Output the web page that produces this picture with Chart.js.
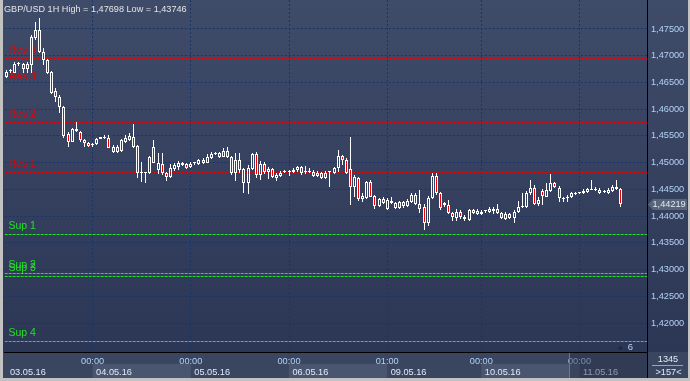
<!DOCTYPE html>
<html><head><meta charset="utf-8">
<script src="https://cdn.jsdelivr.net/npm/chart.js@4.4.1/dist/chart.umd.min.js"></script>
<style>html,body{margin:0;padding:0;background:#c4c4c4;overflow:hidden}#wrap{width:690px;height:381px;position:relative}canvas{display:block}</style>
</head><body><div id="wrap"><canvas id="c" width="690" height="381"></canvas></div>
<script>
// ---------- data ----------
const chartTitle = 'GBP/USD 1H High = 1,47698 Low = 1,43746';
const openP = [1.46602,1.46705,1.46683,1.46836,1.46752,1.46757,1.46827,1.47326,1.47481,1.47075,
1.46920,1.46690,1.46340,1.46222,1.46035,1.45536,1.45392,1.45629,1.45579,1.45362,
1.45362,1.45330,1.45343,1.45437,1.45455,1.45467,1.45298,1.45205,1.45218,1.45392,
1.45424,1.45485,1.45311,1.44801,1.44812,1.44801,1.45287,1.44862,1.44975,1.44801,
1.44726,1.44875,1.44924,1.44988,1.44969,1.44913,1.44984,1.44975,1.45049,1.44999,
1.45092,1.45167,1.45186,1.45111,1.45223,1.45100,1.44801,1.45049,1.44875,1.44614,
1.44881,1.45162,1.44769,1.44969,1.44819,1.44875,1.44707,1.44756,1.44825,1.44819,
1.44819,1.44862,1.44913,1.44838,1.44825,1.44831,1.44812,1.44812,1.44707,1.44825,
1.44801,1.44894,1.45124,1.45049,1.44875,1.44539,1.44707,1.44314,1.44333,1.44643,
1.44376,1.44189,1.44314,1.44127,1.44282,1.44239,1.44146,1.44258,1.44189,1.44269,
1.44395,1.44226,1.44165,1.43865,1.44333,1.44750,1.44426,1.44239,1.44208,1.44052,
1.43959,1.44071,1.43989,1.43927,1.44114,1.44039,1.44039,1.44090,1.44082,1.44095,
1.44127,1.44052,1.43946,1.44034,1.43959,1.44071,1.44170,1.44165,1.44426,1.44531,
1.44221,1.44470,1.44363,1.44475,1.44614,1.44531,1.44325,1.44339,1.44352,1.44413,
1.44426,1.44426,1.44456,1.44494,1.44483,1.44488,1.44456,1.44438,1.44475,1.44539,
1.44501];
const highP = [1.46724,1.46752,1.46877,1.46883,1.46870,1.46883,1.47388,1.47637,1.47698,1.47145,
1.46939,1.46714,1.46396,1.46265,1.46060,1.45579,1.45648,1.45755,1.45601,1.45442,
1.45392,1.45367,1.45452,1.45480,1.45508,1.45517,1.45330,1.45330,1.45442,1.45517,
1.45560,1.45717,1.45330,1.45018,1.44834,1.45130,1.45424,1.45180,1.45175,1.44825,
1.44975,1.44993,1.45031,1.45012,1.44993,1.45003,1.45012,1.45077,1.45087,1.45162,
1.45199,1.45205,1.45205,1.45280,1.45298,1.45124,1.45175,1.45186,1.44900,1.44956,
1.45180,1.45193,1.45031,1.45018,1.44913,1.44894,1.44801,1.44844,1.44862,1.44862,
1.44894,1.44943,1.44928,1.44937,1.44894,1.44862,1.44844,1.44831,1.44849,1.44849,
1.44924,1.45236,1.45143,1.45087,1.45485,1.44769,1.44737,1.44426,1.44662,1.44675,
1.44395,1.44339,1.44352,1.44333,1.44352,1.44269,1.44282,1.44288,1.44320,1.44426,
1.44432,1.44488,1.44226,1.44376,1.44812,1.44801,1.44451,1.44269,1.44301,1.44082,
1.44127,1.44114,1.44021,1.44133,1.44133,1.44127,1.44114,1.44120,1.44165,1.44165,
1.44226,1.44077,1.44071,1.44052,1.44114,1.44282,1.44438,1.44470,1.44675,1.44582,
1.44363,1.44501,1.44625,1.44788,1.44632,1.44563,1.44363,1.44395,1.44456,1.44451,
1.44456,1.44501,1.44520,1.44675,1.44550,1.44520,1.44488,1.44520,1.44582,1.44675,
1.44520];
const lowP = [1.46583,1.46677,1.46671,1.46808,1.46671,1.46671,1.46671,1.47294,1.47051,1.46827,
1.46658,1.46284,1.46140,1.45923,1.45455,1.45298,1.45377,1.45579,1.45392,1.45298,
1.45298,1.45293,1.45330,1.45433,1.45442,1.45265,1.45186,1.45186,1.45199,1.45367,
1.45405,1.45280,1.44707,1.44643,1.44614,1.44788,1.44993,1.44788,1.44769,1.44662,
1.44713,1.44844,1.44862,1.44937,1.44890,1.44900,1.44956,1.44956,1.44975,1.44984,
1.45068,1.45143,1.45096,1.45100,1.45087,1.44769,1.44662,1.44801,1.44438,1.44413,
1.44862,1.44707,1.44675,1.44782,1.44694,1.44707,1.44657,1.44737,1.44797,1.44756,
1.44806,1.44834,1.44769,1.44788,1.44801,1.44737,1.44737,1.44694,1.44694,1.44550,
1.44788,1.44831,1.44956,1.44788,1.44208,1.44352,1.44288,1.44269,1.44320,1.44352,
1.44133,1.44170,1.44221,1.44120,1.44226,1.44133,1.44133,1.44146,1.44170,1.44245,
1.44208,1.44052,1.43746,1.43815,1.44320,1.44395,1.44114,1.44170,1.44034,1.43914,
1.43914,1.43946,1.43914,1.43908,1.44039,1.44026,1.44021,1.44058,1.44064,1.44039,
1.44034,1.43940,1.43927,1.43946,1.43877,1.44058,1.44146,1.44151,1.44395,1.44208,
1.44195,1.44208,1.44352,1.44451,1.44526,1.44269,1.44258,1.44269,1.44333,1.44395,
1.44413,1.44413,1.44438,1.44483,1.44470,1.44413,1.44432,1.44413,1.44456,1.44488,
1.44176];
const closeP = [1.46696,1.46714,1.46840,1.46845,1.46840,1.46851,1.47356,1.47481,1.47075,1.46920,
1.46671,1.46297,1.46222,1.46035,1.45498,1.45392,1.45629,1.45592,1.45424,1.45424,
1.45311,1.45336,1.45437,1.45474,1.45474,1.45280,1.45205,1.45287,1.45424,1.45467,
1.45498,1.45298,1.44812,1.44812,1.44816,1.45111,1.44999,1.44993,1.44801,1.44726,
1.44894,1.44956,1.44999,1.44950,1.44905,1.44975,1.44993,1.45049,1.44988,1.45111,
1.45162,1.45186,1.45111,1.45223,1.45100,1.44801,1.45049,1.44862,1.44614,1.44894,
1.45162,1.44769,1.44969,1.44831,1.44875,1.44737,1.44769,1.44812,1.44838,1.44844,
1.44862,1.44924,1.44801,1.44831,1.44831,1.44756,1.44756,1.44707,1.44812,1.44831,
1.44894,1.45124,1.45049,1.44801,1.44539,1.44737,1.44314,1.44376,1.44643,1.44363,
1.44189,1.44314,1.44239,1.44301,1.44239,1.44157,1.44258,1.44189,1.44282,1.44395,
1.44226,1.44138,1.43865,1.44333,1.44750,1.44426,1.44146,1.44202,1.44052,1.43978,
1.44071,1.43978,1.43940,1.44114,1.44052,1.44101,1.44082,1.44101,1.44127,1.44127,
1.44052,1.43959,1.44039,1.43959,1.44071,1.44176,1.44189,1.44438,1.44531,1.44221,
1.44301,1.44376,1.44488,1.44614,1.44550,1.44333,1.44339,1.44352,1.44426,1.44426,
1.44438,1.44475,1.44501,1.44501,1.44488,1.44426,1.44464,1.44488,1.44550,1.44501,
1.44219];
const slotCount = 157;
const dayStarts = [21, 45, 69, 93, 116, 140];
const timeLabels = ['00:00', '00:00', '00:00', '01:00', '00:00', '00:00'];
const dateLabels = ['03.05.16', '04.05.16', '05.05.16', '06.05.16', '09.05.16', '10.05.16', '11.05.16'];
const resLevels = [1.46952, 1.46447, 1.45760, 1.44819];
const resNames = ['Res 4', 'Res 3', 'Res 2', 'Res 1'];
const supLevels = [1.43659, 1.42935, 1.42879, 1.41663];
const supNames = ['Sup 1', 'Sup 2', 'Sup 3', 'Sup 4'];
const yMin = 1.414575, yMax = 1.480425, yStep = 0.005, yTickLow = 1.42, yTickHigh = 1.475;
const infoTop = '1345', infoBottom = '>157<', shiftLabel = '6';

// ---------- derived ----------
const labels = Array.from({length: slotCount}, (_, i) => String(i));
const bodies = openP.map((o, i) => [o, closeP[i]]);
const upperWicks = openP.map((o, i) => [Math.max(o, closeP[i]), highP[i]]);
const lowerWicks = openP.map((o, i) => [lowP[i], Math.min(o, closeP[i])]);
const bodyFill = openP.map((o, i) => closeP[i] < o ? '#ee0000' : 'rgba(0,0,0,0)');
const fmt = v => v.toFixed(5).replace('.', ',');
const FONT = '"Liberation Sans", Arial, sans-serif';
const GRID = '#19346a';

const deco = {
  id: 'deco',
  afterDatasetsUpdate(chart) {
    chart.data.datasets.forEach((ds, di) => {
      chart.getDatasetMeta(di).data.forEach(el => {
        el.x = Math.round(el.x - 0.5) + 0.5;
        let t = Math.round(el.y), b = Math.round(el.base);
        if (di === 0 && Math.abs(t - b) < 1) b = t + 1;
        el.y = t; el.base = b;
      });
    });
  },
  beforeDraw(chart) {
    const {ctx, chartArea: a, scales: {x}} = chart;
    const W = chart.width, H = chart.height;
    ctx.save();
    const g = ctx.createLinearGradient(0, 0, 0, a.bottom);
    g.addColorStop(0, '#3f4c69');
    g.addColorStop(1, '#2c3655');
    ctx.fillStyle = g;
    ctx.fillRect(0, 0, W, a.bottom);
    ctx.fillStyle = '#3a4560';
    ctx.fillRect(0, a.bottom, W, H - a.bottom);
    const bounds = [a.left, ...dayStarts.map(d => x.getPixelForValue(d)), a.right];
    for (let k = 0; k < dateLabels.length; k++) {
      if (k % 2 === 1) {
        ctx.fillStyle = '#4a5670';
        ctx.fillRect(bounds[k], 364, bounds[k + 1] - bounds[k], 14);
      }
    }
    ctx.restore();
  },
  beforeDatasetsDraw(chart) {
    const {ctx, chartArea: a, scales: {y}} = chart;
    ctx.save();
    ctx.beginPath();
    ctx.rect(a.left, a.top, a.right - a.left, a.bottom - a.top);
    ctx.clip();
    ctx.lineWidth = 1;
    ctx.font = '10.5px ' + FONT;
    ctx.textBaseline = 'middle';
    ctx.textAlign = 'left';
    const drawSet = (levels, names, color) => {
      levels.forEach((v, k) => {
        const py = Math.round(y.getPixelForValue(v)) + 0.5;
        ctx.strokeStyle = color;
        ctx.setLineDash([3, 1]);
        ctx.beginPath(); ctx.moveTo(a.left, py); ctx.lineTo(a.right, py); ctx.stroke();
        ctx.setLineDash([]);
        ctx.fillStyle = color;
        ctx.fillText(names[k], 8.5, py - 8);
      });
    };
    drawSet(resLevels, resNames, '#e80000');
    drawSet(supLevels, supNames, '#22e022');
    ctx.restore();
  },
  afterDraw(chart) {
    const {ctx, chartArea: a, scales: {x, y}} = chart;
    const W = chart.width, H = chart.height;
    ctx.save();
    ctx.textBaseline = 'middle';
    // y tick labels
    ctx.font = '9.2px ' + FONT;
    ctx.fillStyle = '#b4d2f5';
    ctx.textAlign = 'left';
    y.ticks.forEach(t => ctx.fillText(fmt(t.value), a.right + 4, y.getPixelForValue(t.value)));
    // time labels
    ctx.textAlign = 'center';
    dayStarts.forEach((d, k) => ctx.fillText(timeLabels[k], x.getPixelForValue(d), 361));
    // date labels
    ctx.textAlign = 'left';
    ctx.fillStyle = '#e2eaf6';
    ctx.fillText(dateLabels[0], 10, 372);
    dayStarts.forEach((d, k) => ctx.fillText(dateLabels[k + 1], x.getPixelForValue(d) + 3.5, 372));
    // shift region overlay in the time axis
    ctx.fillStyle = 'rgba(40,48,70,0.45)';
    ctx.fillRect(569, a.bottom + 1, a.right - 569, 26);
    ctx.fillStyle = '#6c778c';
    ctx.fillRect(569, a.bottom + 1, 1, 25);
    // separator below the price axis
    ctx.fillStyle = '#000';
    ctx.fillRect(a.right, a.bottom, 1, 26);
    // bottom-right info
    ctx.fillStyle = '#e2eaf6';
    ctx.textAlign = 'center';
    ctx.fillText(infoTop, 668, 359);
    ctx.fillText(infoBottom, 668.5, 372.5);
    ctx.fillStyle = '#9aa6b8';
    ctx.fillRect(652, 365, 31, 1);
    // shift marker
    ctx.fillStyle = '#1d2944';
    ctx.beginPath(); ctx.moveTo(618, 349.5); ctx.lineTo(623, 349.5); ctx.lineTo(620.5, 345); ctx.closePath(); ctx.fill();
    ctx.fillStyle = '#b4d2f5';
    ctx.font = '9.5px ' + FONT;
    ctx.fillText(shiftLabel, 630.5, 347);
    // current price tag
    const last = closeP[closeP.length - 1];
    const lp = Math.round(y.getPixelForValue(last)) + 0.5;
    ctx.fillStyle = '#5a6479';
    ctx.strokeStyle = '#8a94a8';
    ctx.beginPath();
    ctx.moveTo(a.right + 1, lp);
    ctx.lineTo(a.right + 6, lp - 5.5);
    ctx.lineTo(687, lp - 5.5);
    ctx.lineTo(687, lp + 5.5);
    ctx.lineTo(a.right + 6, lp + 5.5);
    ctx.closePath();
    ctx.fill();
    ctx.fillStyle = '#dde8f8';
    ctx.textAlign = 'left';
    ctx.font = '9.2px ' + FONT;
    ctx.fillText(fmt(last), a.right + 5.5, lp);
    // title
    ctx.font = '10px ' + FONT;
    const tw = ctx.measureText(chartTitle).width;
    ctx.font = (10 * 183 / tw).toFixed(2) + 'px ' + FONT;
    ctx.fillStyle = '#e4e4e4';
    ctx.fillText(chartTitle, 4, 9);
    // frame
    ctx.fillStyle = '#c2c2c2';
    ctx.fillRect(0, 0, 3, H);
    ctx.fillRect(0, 378, W, 3);
    ctx.fillRect(688, 0, 2, H);
    ctx.restore();
  }
};

new Chart(document.getElementById('c'), {
  type: 'bar',
  data: {
    labels,
    datasets: [
      {data: bodies, backgroundColor: bodyFill, borderColor: '#ffffff', borderWidth: 1, borderSkipped: false,
       barThickness: 3, minBarLength: 1, grouped: false, inflateAmount: 0},
      {data: upperWicks, backgroundColor: '#ffffff', borderWidth: 0, barThickness: 1, grouped: false, inflateAmount: 0},
      {data: lowerWicks, backgroundColor: '#ffffff', borderWidth: 0, barThickness: 1, grouped: false, inflateAmount: 0}
    ]
  },
  options: {
    responsive: false,
    animation: false,
    events: [],
    layout: {padding: {left: 4.65, right: 2, top: 0, bottom: 3}},
    plugins: {legend: {display: false}, tooltip: {enabled: false}},
    scales: {
      x: {
        type: 'category',
        offset: true,
        afterFit(s) { s.height = 26; },
        ticks: {display: false, autoSkip: false},
        grid: {offset: false, drawTicks: false, lineWidth: 1,
               color: c => dayStarts.includes(c.index) ? GRID : 'rgba(0,0,0,0)'},
        border: {display: true, color: '#000000', width: 1, dash: [2, 2]}
      },
      y: {
        position: 'right',
        min: yMin, max: yMax,
        afterFit(s) { s.width = 41; },
        afterBuildTicks(s) { s.ticks = s.ticks.filter(t => t.value > yTickLow - 1e-4 && t.value < yTickHigh + 1e-4); },
        ticks: {display: false, stepSize: yStep, includeBounds: false},
        grid: {drawTicks: false, color: GRID, lineWidth: 1},
        border: {display: true, color: '#000000', width: 1, dash: [2, 2]}
      }
    }
  },
  plugins: [deco]
});
</script>
</body></html>
